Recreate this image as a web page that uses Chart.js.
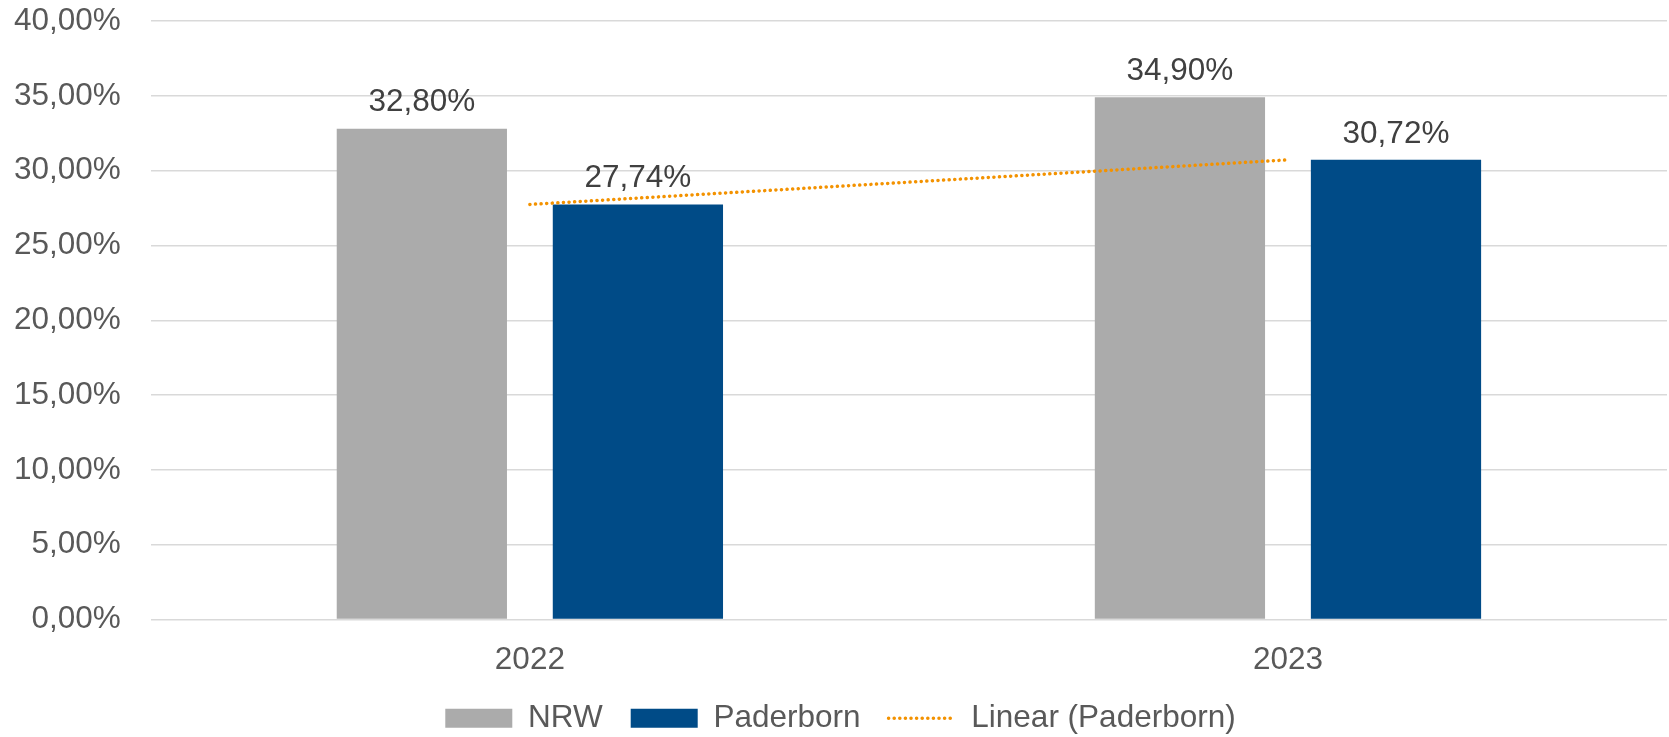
<!DOCTYPE html>
<html>
<head>
<meta charset="utf-8">
<script src="https://cdn.jsdelivr.net/npm/chart.js@4.4.1/dist/chart.umd.min.js"></script>
<style>
    html, body { margin: 0; padding: 0; background: #fff; }
    #wrap { width: 1669px; height: 737px; }
</style>
</head>
<body>
<div id="wrap"><canvas id="chart"></canvas></div>
<script>
const years = ['2022', '2023'];
const nrwValues = [32.80, 34.90];
const paderbornValues = [27.74, 30.72];
// linear trend through the Paderborn values (two points -> same values)
const trendValues = [27.74, 30.72];
const yTicks = [0, 5, 10, 15, 20, 25, 30, 35, 40];

const FONT = "'Liberation Sans', Arial, sans-serif";
const FONT_SIZE = 31.5;
const TREND_DASH = [0.1, 5.5];
const X_TICK_PAD = 21.6;
const Y_TICK_PAD = 30;

const formatPct = v => v.toFixed(2).replace('.', ',') + '%';

// Werte über den Balken
const barLabels = {
    id: 'barLabels',
    afterDatasetsDraw(chart) {
        const ctx = chart.ctx;
        ctx.save();
        ctx.font = FONT_SIZE + 'px ' + FONT;
        ctx.fillStyle = '#404040';
        ctx.textAlign = 'center';
        ctx.textBaseline = 'middle';
        chart.data.datasets.forEach((ds, i) => {
            if (ds.type !== 'bar') return;
            const meta = chart.getDatasetMeta(i);
            meta.data.forEach((bar, j) => {
                ctx.fillText(formatPct(ds.data[j]), bar.x, bar.y - 26);
            });
        });
        ctx.restore();
    }
};

const ctx = document.getElementById('chart').getContext('2d');
new Chart(ctx, {
    data: {
        labels: years,
        datasets: [
            {
                type: 'bar',
                label: 'NRW',
                data: nrwValues,
                backgroundColor: '#ABABAB',
                categoryPercentage: 0.57,
                barPercentage: 0.788,
                order: 2
            },
            {
                type: 'bar',
                label: 'Paderborn',
                data: paderbornValues,
                backgroundColor: '#004B87',
                categoryPercentage: 0.57,
                barPercentage: 0.788,
                order: 2
            },
            {
                type: 'line',
                label: 'Linear (Paderborn)',
                data: trendValues,
                borderColor: '#F39200',
                backgroundColor: '#F39200',
                borderWidth: 3.5,
                borderDash: TREND_DASH,
                borderCapStyle: 'round',
                pointRadius: 0,
                fill: false,
                order: 1
            }
        ]
    },
    options: {
        responsive: true,
        maintainAspectRatio: false,
        animation: false,
        layout: {
            padding: { top: 21, left: 14, right: 2, bottom: 0 }
        },
        scales: {
            x: {
                grid: { display: false, drawTicks: false },
                border: { display: false },
                ticks: {
                    color: '#595959',
                    font: { family: FONT, size: FONT_SIZE },
                    padding: X_TICK_PAD
                },
                // only keep the tick padding above the labels
                afterFit: axis => {
                    axis.height = 55;
                }
            },
            y: {
                min: 0,
                max: 40,
                afterBuildTicks: axis => {
                    axis.ticks = yTicks.map(v => ({ value: v }));
                },
                // chart.js reserves the tick padding on both sides, keep only the inner one
                afterFit: axis => {
                    axis.width -= Y_TICK_PAD;
                    axis.paddingTop = 0;
                    axis.paddingBottom = 0;
                },
                grid: {
                    color: '#D9D9D9',
                    lineWidth: 1.5,
                    drawTicks: false
                },
                border: { display: false },
                ticks: {
                    color: '#595959',
                    font: { family: FONT, size: FONT_SIZE },
                    padding: Y_TICK_PAD,
                    callback: v => formatPct(v)
                }
            }
        },
        plugins: {
            tooltip: { enabled: false },
            legend: {
                position: 'bottom',
                maxHeight: 62.5,
                labels: {
                    usePointStyle: true,
                    pointStyleWidth: 67,
                    boxHeight: 19,
                    padding: 28,
                    color: '#595959',
                    font: { family: FONT, size: FONT_SIZE },
                    sort: (a, b) => a.datasetIndex - b.datasetIndex,
                    generateLabels: chart => {
                        const items = Chart.defaults.plugins.legend.labels.generateLabels(chart);
                        return items.map(item => {
                            if (item.datasetIndex === 2) {
                                const ds = chart.data.datasets[2];
                                item.pointStyle = 'line';
                                item.lineDash = ds.borderDash;
                                item.lineCap = ds.borderCapStyle;
                                item.lineWidth = ds.borderWidth;
                                item.strokeStyle = ds.borderColor;
                            } else {
                                item.pointStyle = 'rect';
                            }
                            return item;
                        });
                    }
                }
            }
        }
    },
    plugins: [barLabels]
});
</script>
</body>
</html>
